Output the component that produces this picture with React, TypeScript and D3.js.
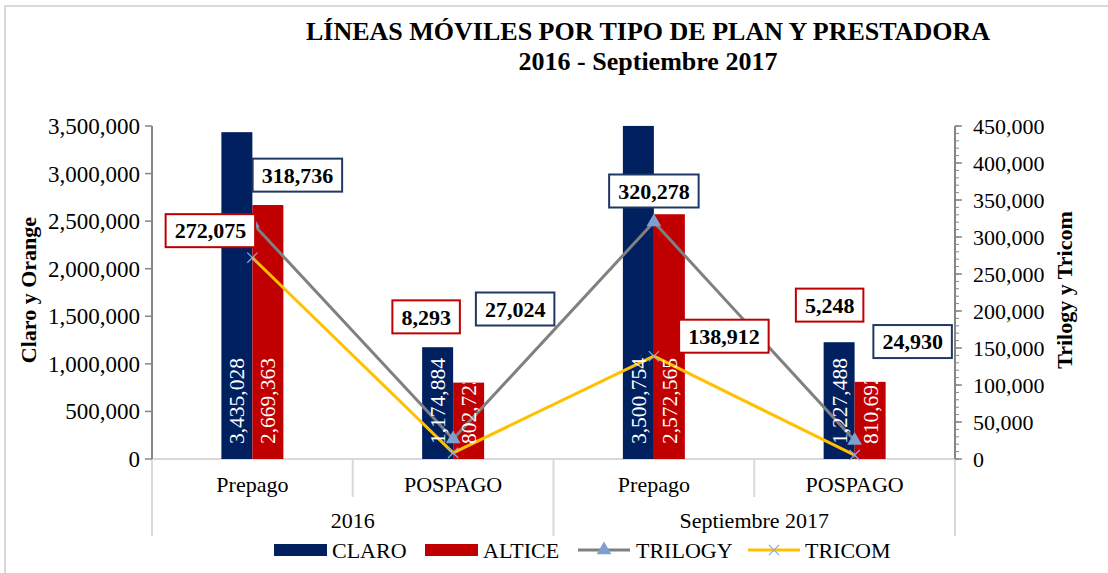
import React from 'react'
import * as d3 from 'd3'

// chart values
const categories = ["Prepago", "POSPAGO", "Prepago", "POSPAGO"];
const groups = ["2016", "Septiembre 2017"];
const claro = [3435028, 1174884, 3500754, 1227488];
const altice = [2669363, 802723, 2572565, 810692];
const trilogy = [318736, 27024, 320278, 24930];
const tricom = [272075, 8293, 138912, 5248];
const leftTicks = [0, 500000, 1000000, 1500000, 2000000, 2500000, 3000000, 3500000];
const rightTicks = [0, 50000, 100000, 150000, 200000, 250000, 300000, 350000, 400000, 450000];

const width = 1108;
const height = 573;
const margin = ({top: 126, right: 153, bottom: 114, left: 152});
const serif = '"Liberation Serif", "Times New Roman", serif';

// manual label offsets (like Excel's dragged labels), relative to the point
const trilogyOffsets = [[45, -48], [62, -130], [0, -31], [58, -99]];
const tricomOffsets = [[-42, -27], [-27, -136], [70, -20], [-25, -150]];

const fmt = d3.format(",");

function labelWidth(s: string, size: number) {
    let w = 0;
    for (const c of s) w += c === "," ? 0.25 : 0.5;
    return w * size;
}

export default function App() {
    const x = d3.scaleBand<number>()
        .domain(d3.range(categories.length))
        .range([margin.left, width - margin.right])
        .paddingInner(0)
        .paddingOuter(0);
    const y = d3.scaleLinear().domain([0, 3500000]).range([height - margin.bottom, margin.top]);
    const y2 = d3.scaleLinear().domain([0, 450000]).range([height - margin.bottom, margin.top]);
    const cx = (i: number) => x(i)! + x.bandwidth() / 2;
    const barW = 31;
    const y0 = y(0);

    const line = d3.line<number>()
        .x((d, i) => cx(i))
        .y(d => y2(d));

    const tri = d3.symbol(d3.symbolTriangle, 95)()!;
    const cross = d3.symbol(d3.symbolX, 70)()!;
    const minorTicks = d3.range(0, 450001, 10000);

    const barSeries = [
        {name: "CLARO", values: claro, color: "#002060", dx: -barW},
        {name: "ALTICE", values: altice, color: "#C00000", dx: 0},
    ];
    const lineSeries = [
        {name: "TRILOGY", values: trilogy, color: "#808080", border: "#1F3864", offsets: trilogyOffsets},
        {name: "TRICOM", values: tricom, color: "#FFC000", border: "#C00000", offsets: tricomOffsets},
    ];

    const bandStart = (i: number) => x(i)!;
    const groupEdges = [bandStart(0), bandStart(2), width - margin.right];

    return (
        <svg width={width} height={height} style={{position: "absolute", left: 0, top: 0, background: "#fff"}}
             fontFamily={serif}>
            <rect x={5} y={6} width={1120} height={600} fill="#fff" stroke="#D9D9D9" strokeWidth={2}/>

            <text x={648} y={40} textAnchor="middle" fontSize={26} fontWeight="bold">
                LÍNEAS MÓVILES POR TIPO DE PLAN Y PRESTADORA
            </text>
            <text x={648} y={70} textAnchor="middle" fontSize={26} fontWeight="bold">
                2016 - Septiembre 2017
            </text>

            {/* category axis */}
            <line x1={margin.left} x2={width - margin.right} y1={y0} y2={y0} stroke="#D9D9D9" strokeWidth={2}/>
            {[1, 3].map(i => (
                <line key={"s" + i} x1={bandStart(i)} x2={bandStart(i)} y1={y0} y2={497} stroke="#D9D9D9" strokeWidth={2}/>
            ))}
            {groupEdges.map((gx, i) => (
                <line key={"g" + i} x1={gx} x2={gx} y1={y0} y2={536} stroke="#D9D9D9" strokeWidth={2}/>
            ))}
            {categories.map((c, i) => (
                <text key={"c" + i} x={cx(i)} y={492} textAnchor="middle" fontSize={22}>{c}</text>
            ))}
            {groups.map((g, i) => (
                <text key={"gl" + i} x={(groupEdges[i] + groupEdges[i + 1]) / 2} y={528} textAnchor="middle"
                      fontSize={22}>{g}</text>
            ))}

            {/* left axis */}
            <line x1={margin.left} x2={margin.left} y1={y(3500000)} y2={y0} stroke="#868686" strokeWidth={2}/>
            {leftTicks.map(t => (
                <g key={"l" + t} transform={`translate(${margin.left},${y(t)})`}>
                    <line x1={-7} x2={0} stroke="#868686" strokeWidth={1.5}/>
                    <text x={-12} dy="0.35em" textAnchor="end" fontSize={23}>{fmt(t)}</text>
                </g>
            ))}
            <text transform={`translate(36,290) rotate(-90)`} textAnchor="middle" fontSize={22}
                  fontWeight="bold">Claro y Orange</text>

            {/* right axis */}
            <line x1={width - margin.right} x2={width - margin.right} y1={y2(450000)} y2={y0} stroke="#868686"
                  strokeWidth={2}/>
            {minorTicks.map(t => (
                <line key={"m" + t} x1={width - margin.right} x2={width - margin.right + 4} y1={y2(t)} y2={y2(t)}
                      stroke="#868686" strokeWidth={1}/>
            ))}
            {rightTicks.map(t => (
                <g key={"r" + t} transform={`translate(${width - margin.right},${y2(t)})`}>
                    <line x1={0} x2={7} stroke="#868686" strokeWidth={1.5}/>
                    <text x={18} dy="0.35em" textAnchor="start" fontSize={22}>{fmt(t)}</text>
                </g>
            ))}
            <text transform={`translate(1072,290) rotate(-90)`} textAnchor="middle" fontSize={22}
                  fontWeight="bold">Trilogy y Tricom</text>

            {/* bars */}
            <defs>
                {barSeries.map(s => s.values.map((v, i) => (
                    <clipPath key={s.name + i} id={`clip-${s.name}-${i}`}>
                        <rect x={cx(i) + s.dx} y={y(v)} width={barW} height={y0 - y(v)}/>
                    </clipPath>
                )))}
            </defs>
            {barSeries.map(s => s.values.map((v, i) => (
                <rect key={s.name + i} x={cx(i) + s.dx} y={y(v)} width={barW} height={y0 - y(v)} fill={s.color}/>
            )))}

            {/* lines */}
            {lineSeries.map(s => (
                <path key={s.name} d={line(s.values)!} fill="none" stroke={s.color} strokeWidth={3}
                      strokeLinejoin="round"/>
            ))}
            {trilogy.map((v, i) => (
                <path key={"t" + i} d={tri} transform={`translate(${cx(i)},${y2(v)})`} fill="#7F9FD0"/>
            ))}
            {tricom.map((v, i) => (
                <path key={"x" + i} d={cross} transform={`translate(${cx(i)},${y2(v)})`} fill="none"
                      stroke="#8EA9DB" strokeWidth={1.2}/>
            ))}

            {/* bar labels */}
            {barSeries.map(s => s.values.map((v, i) => (
                <g key={"bl" + s.name + i} clipPath={`url(#clip-${s.name}-${i})`}>
                    <text transform={`translate(${cx(i) + s.dx + barW / 2},${y0 - 15}) rotate(-90)`}
                          dy="0.35em" textAnchor="start" fontSize={21.5} fill="#fff">{fmt(v)}</text>
                </g>
            )))}

            {/* line labels */}
            {lineSeries.map(s => s.values.map((v, i) => {
                const lx = cx(i) + s.offsets[i][0];
                const ly = y2(v) + s.offsets[i][1];
                const txt = fmt(v);
                const bw = labelWidth(txt, 22) + 18;
                return (
                    <g key={"ll" + s.name + i} transform={`translate(${lx},${ly})`}>
                        <rect x={-bw / 2} y={-16.5} width={bw} height={33} fill="#fff" stroke={s.border}
                              strokeWidth={2}/>
                        <text dy="0.35em" textAnchor="middle" fontSize={22} fontWeight="bold">{txt}</text>
                    </g>
                );
            }))}

            {/* legend */}
            <g transform="translate(0,550)" fontSize={22}>
                <rect x={274} y={-6} width={53} height={12} fill="#002060"/>
                <text x={332} dy="0.35em">CLARO</text>
                <rect x={425} y={-6} width={53} height={12} fill="#C00000"/>
                <text x={483} dy="0.35em">ALTICE</text>
                <line x1={578} x2={630} y1={0} y2={0} stroke="#808080" strokeWidth={3}/>
                <path d={tri} transform="translate(604,0)" fill="#7F9FD0"/>
                <text x={636} dy="0.35em">TRILOGY</text>
                <line x1={748} x2={800} y1={0} y2={0} stroke="#FFC000" strokeWidth={3}/>
                <path d={cross} transform="translate(774,0)" fill="none" stroke="#8EA9DB" strokeWidth={1.2}/>
                <text x={805} dy="0.35em">TRICOM</text>
            </g>
        </svg>
    );
}
